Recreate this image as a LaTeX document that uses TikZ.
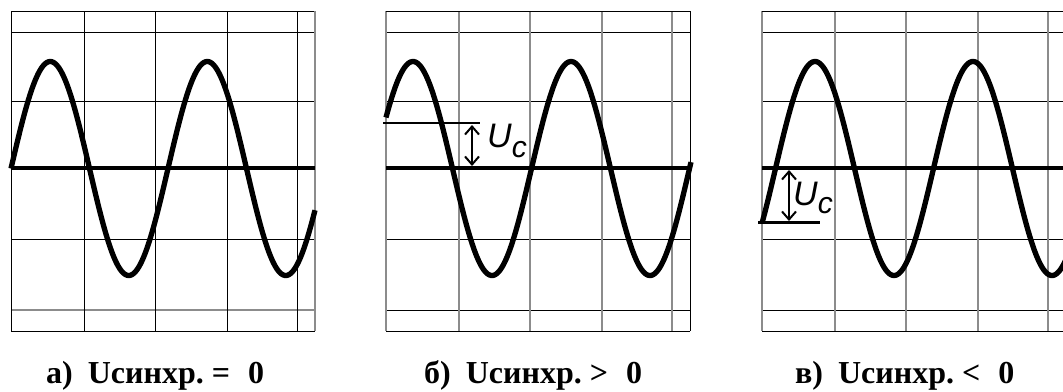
\documentclass[tikz,border=0pt]{standalone}
\usepackage{fontspec}
\setmainfont{Liberation Serif}
\setsansfont{Liberation Sans}
\usetikzlibrary{arrows.meta}
\newcommand{\panelgrid}[3]{%
  \foreach \h in {32,101,168,239} \draw[thingrid] (#1,\h) -- ++(304,0);
  \draw[#3] (#1,310) -- ++(304,0);
  \foreach \v in {73,144,216,286} \draw[#2] (#1+\v,11) -- (#1+\v,331);
  \draw[#2] (#1,11) -- (#1,331);
  \draw[thingrid] (#1,11) -- ++(304,0);
  \draw[thingrid] (#1,331) -- ++(304,0);
  \draw[#3] (#1+304,11) -- (#1+304,331);
}
\begin{document}
\begin{tikzpicture}[x=1pt,y=-1pt,
  thingrid/.style={line width=0.9pt, black},
  greygrid/.style={line width=1.4pt, black!45},
  axisline/.style={line width=4.5pt},
  wave/.style={line width=5.3pt, line join=round},
  levelline/.style={line width=2.5pt},
  uarrow/.style={line width=2pt, {Straight Barb[length=8pt,width=14pt]}-{Straight Barb[length=8pt,width=14pt]}},
  ulabel/.style={font=\fontsize{34}{34}\selectfont\sffamily\itshape, inner sep=0pt, anchor=base west},
  caption/.style={font=\fontsize{32}{36}\selectfont\bfseries, inner sep=0pt, anchor=base west}
]
\useasboundingbox (0,0) rectangle (1063,391);
\clip (0,0) rectangle (1063,391);
\fill[white] (0,0) rectangle (1063,391);

% grids
\panelgrid{11}{thingrid}{greygrid}
\panelgrid{386}{greygrid}{thingrid}
\panelgrid{762}{greygrid}{thingrid}

% axes
\draw[axisline] (11,168) -- (315,168);
\draw[axisline] (386,168) -- (691,168);
\draw[axisline] (762,168) -- (1066,168);

% waves
\draw[wave] plot[domain=11:315, samples=260, smooth] (\x,{168.5-107*sin(((\x-11)/157)*360)});
\draw[wave] plot[domain=386:691, samples=260, smooth] (\x,{168.5-107*sin(((\x-373.5)/158)*360)});
\draw[wave] plot[domain=762:1066, samples=260, smooth] (\x,{168.5-107*sin(((\x-775.5)/158)*360)});

% panel 2 level
\coordinate (l2a) at (383,123);
\coordinate (l2b) at (480,123);
\draw[levelline] (l2a) -- (l2b);
\coordinate (a2t) at (472,125);
\coordinate (a2b) at (472,166);
\draw[uarrow] (a2t) -- (a2b);
\node[ulabel] (uc2) at (487,147) {U\raisebox{-10pt}{\fontsize{30}{30}\selectfont c}};

% panel 3 level
\coordinate (l3a) at (758,222.5);
\coordinate (l3b) at (820,222.5);
\draw[levelline] (l3a) -- (l3b);
\coordinate (a3t) at (789,170);
\coordinate (a3b) at (789,221);
\draw[uarrow] (a3t) -- (a3b);
\node[ulabel] (uc3) at (793,205) {U\raisebox{-8pt}{\fontsize{30}{30}\selectfont c}};

% captions
\node[caption] (cap1) at (46,383) {а)\hspace{15pt}Uсинхр.\ =\hspace{18pt}0};
\node[caption] (cap2) at (424,383) {б)\hspace{15pt}Uсинхр.\ >\hspace{18pt}0};
\node[caption] (cap3) at (795,383) {в)\hspace{15pt}Uсинхр.\ <\hspace{18pt}0};
\end{tikzpicture}
\end{document}
